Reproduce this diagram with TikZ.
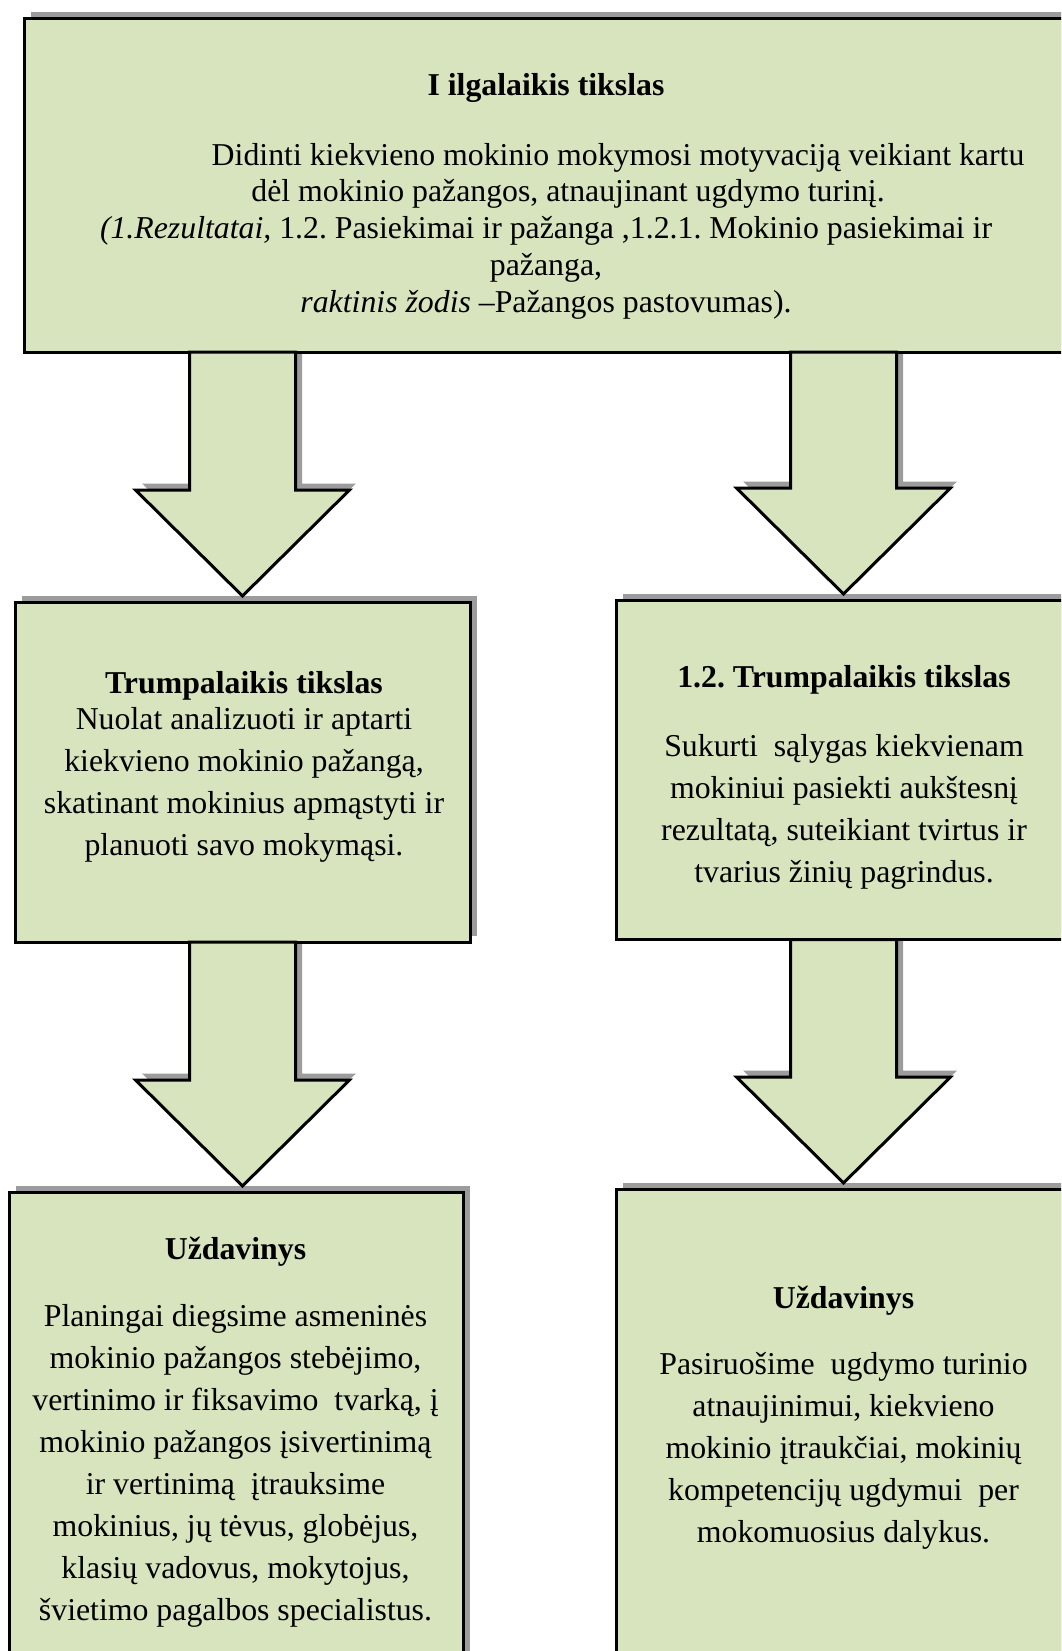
\documentclass[tikz,border=0pt]{standalone}
\usepackage{fontspec}
\setmainfont{Liberation Serif}
\frenchspacing
\usetikzlibrary{calc, shadows}

\definecolor{boxgreen}{HTML}{D7E4BD}
\definecolor{shadegray}{HTML}{9C9C9C}

\pgfdeclarelayer{back}
\pgfsetlayers{back,main}

\tikzset{
  box/.style = {draw, line width=3pt, fill=boxgreen, inner sep=0pt, outer sep=0pt,
    drop shadow={shadow xshift=6.5pt, shadow yshift=6.5pt, opacity=1, fill=shadegray}},
  arrowbody/.style = {draw, line width=3pt, fill=boxgreen, line join=miter},
  arrowshade/.style = {fill=shadegray, transform canvas={xshift=6.5pt, yshift=6.5pt}},
  goaltext/.style = {align=center, anchor=base, font=\fontsize{31.8}{36.75}\selectfont},
  boxtext/.style = {align=center, anchor=base, font=\fontsize{31.8}{42}\selectfont}
}

% block arrow from the bottom of #1 to the top of #2, on the axis of #3
\newcommand{\blockarrow}[3]{
  \coordinate (tip) at ($(#2.north -| #3.north) + ( 0, -6 )$);
  \coordinate (root) at (#1.south -| #3.north);
  \begin{pgfonlayer}{back}
    \fill [arrowshade] (tip) -- ++( -107, -106 ) -- ++( 54, 0 ) |- (root) -| ($(tip) + ( 53, -106 )$) -- ++( 54, 0 ) -- cycle;
  \end{pgfonlayer}
  \draw [arrowbody] (tip) -- ++( -107, -106 ) -- ++( 54, 0 ) |- (root) -| ($(tip) + ( 53, -106 )$) -- ++( 54, 0 ) -- cycle;
}

\begin{document}
\begin{tikzpicture}[x=1pt, y=-1pt]

\useasboundingbox ( 0, 0 ) rectangle ( 1061, 1651 );
\clip ( 0, 0 ) rectangle ( 1061, 1651 );

% Boxes
\node (goal) at ( 546, 185.5 ) [box, minimum width=1044pt, minimum height=333pt] {};
\node (lt) at ( 242.5, 772 ) [box, minimum width=455pt, minimum height=340pt] {};
\node (rt) at ( 843.5, 769.75 ) [box, minimum width=455pt, minimum height=339.5pt] {};
\node (lb) at ( 236, 1446 ) [box, minimum width=454pt, minimum height=508pt] {};
\node (rb) at ( 843.5, 1444.5 ) [box, minimum width=455pt, minimum height=511pt] {};

% Arrows
\blockarrow{goal}{lt}{lt}
\blockarrow{goal}{rt}{rt}
\blockarrow{lt}{lb}{lt}
\blockarrow{rt}{rb}{rt}

% Texts (placed at the baseline of the last line)
\node (goaltxt) at ( 546, 312 ) [goaltext] {\textbf{I ilgalaikis tikslas}\\[33pt]
  \hspace*{144pt}Didinti kiekvieno mokinio mokymosi motyvaciją veikiant kartu\\
  \hspace*{44pt}dėl mokinio pažangos, atnaujinant ugdymo turinį.\\
  \textit{(1.Rezultatai,} 1.2. Pasiekimai ir pažanga ,1.2.1. Mokinio pasiekimai ir\\
  pažanga,\\
  \textit{raktinis žodis} –Pažangos pastovumas).};

\node (lttxt) at ( 244, 855 ) [boxtext] {\textbf{Trumpalaikis tikslas}\\[-6pt]
  Nuolat analizuoti ir aptarti\\
  kiekvieno mokinio pažangą,\\
  skatinant mokinius apmąstyti ir\\
  planuoti savo mokymąsi.};

\node (rttxt) at ( 844, 882 ) [boxtext] {\textbf{1.2. Trumpalaikis tikslas}\\[27pt]
  Sukurti~ sąlygas kiekvienam\\
  mokiniui pasiekti aukštesnį\\
  rezultatą, suteikiant tvirtus ir\\
  tvarius žinių pagrindus.};

\node (lbtxt) at ( 235.5, 1620 ) [boxtext] {\textbf{Uždavinys}\\[25pt]
  Planingai diegsime asmeninės\\
  mokinio pažangos stebėjimo,\\
  vertinimo ir fiksavimo~ tvarką, į\\
  mokinio pažangos įsivertinimą\\
  ir vertinimą~ įtrauksime\\
  mokinius, jų tėvus, globėjus,\\
  klasių vadovus, mokytojus,\\
  švietimo pagalbos specialistus.};

\node (rbtxt) at ( 843.5, 1542 ) [boxtext] {\textbf{Uždavinys}\\[24pt]
  Pasiruošime~ ugdymo turinio\\
  atnaujinimui, kiekvieno\\
  mokinio įtraukčiai, mokinių\\
  kompetencijų ugdymui~ per\\
  mokomuosius dalykus.};

\end{tikzpicture}
\end{document}
